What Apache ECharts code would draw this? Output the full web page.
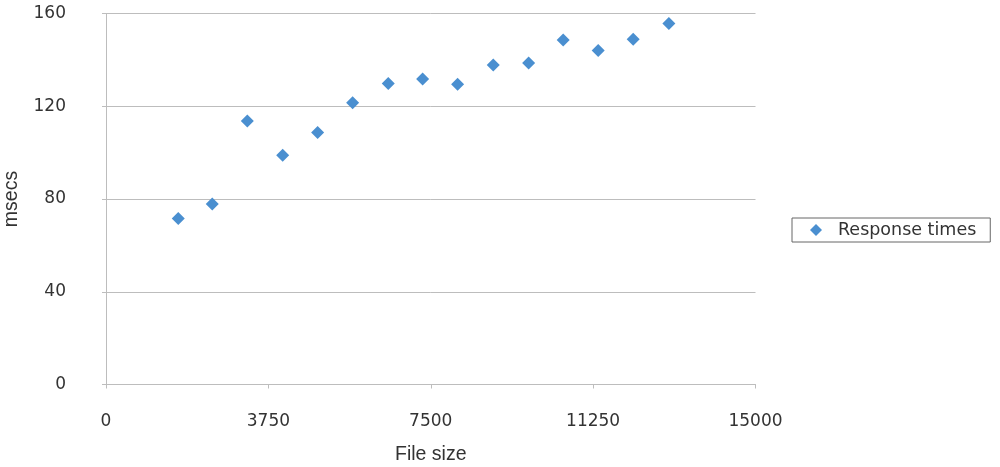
<!DOCTYPE html>
<html>
<head>
<meta charset="utf-8">
<script src="https://cdn.jsdelivr.net/npm/echarts@6/dist/echarts.min.js"></script>
<style>html,body{margin:0;padding:0;background:#fff;}#c{width:1000px;height:467px;}</style>
</head>
<body>
<div id="c"></div>
<script>
const fileSizes = [1669, 2454, 3263, 4080, 4888, 5696, 6518, 7312, 8120, 8943, 9760, 10559, 11367, 12175, 12999];
const responseTimes = [71.6, 77.8, 113.6, 98.9, 108.7, 121.5, 129.8, 131.7, 129.5, 137.8, 138.6, 148.6, 144.0, 148.9, 155.7];
const seriesName = 'Response times';
const xTitle = 'File size';
const yTitle = 'msecs';

const chart = echarts.init(document.getElementById('c'));
const font = 'DejaVu Sans';
const titleFont = 'Liberation Sans';
chart.setOption({
  animation: false,
  backgroundColor: '#fff',
  grid: { left: 106, right: 244.5, top: 13.5, bottom: 82.5, containLabel: false, outerBoundsMode: 'none' },
  legend: {
    data: [{ name: seriesName, icon: 'diamond' }],
    left: 792, top: 218,
    orient: 'vertical',
    borderColor: '#666', borderWidth: 1,
    padding: [3, 14, 3, 18],
    itemWidth: 12, itemHeight: 12, itemGap: 0,
    textStyle: { fontFamily: font, fontSize: 17.5, color: '#333', padding: [0, 0, 0, 11] }
  },
  xAxis: {
    type: 'value', min: 0, max: 15000, interval: 3750,
    name: xTitle, nameLocation: 'middle', nameGap: 60,
    nameTextStyle: { fontFamily: titleFont, fontSize: 19.5, color: '#333' },
    axisLine: { show: true, lineStyle: { color: '#bdbdbd' } },
    axisTick: { show: true, length: 4, lineStyle: { color: '#bdbdbd' } },
    axisLabel: { fontFamily: font, fontSize: 17, color: '#333', margin: 29, formatter: v => String(v) },
    splitLine: { show: false }
  },
  yAxis: {
    type: 'value', min: 0, max: 160, interval: 40,
    name: yTitle, nameLocation: 'middle', nameGap: 84, nameRotate: 90,
    nameTextStyle: { fontFamily: titleFont, fontSize: 19.5, color: '#333' },
    axisLine: { show: true, lineStyle: { color: '#bdbdbd' } },
    axisTick: { show: true, length: 4, lineStyle: { color: '#bdbdbd' } },
    axisLabel: { fontFamily: font, fontSize: 17, color: '#333', margin: 40 },
    splitLine: { show: true, lineStyle: { color: '#bdbdbd', width: 1 } }
  },
  series: [{
    name: seriesName,
    type: 'scatter',
    symbol: 'diamond',
    symbolSize: 13,
    itemStyle: { color: '#4a8fd0', opacity: 1 },
    data: fileSizes.map((x, i) => [x, responseTimes[i]])
  }]
});
</script>
</body>
</html>
